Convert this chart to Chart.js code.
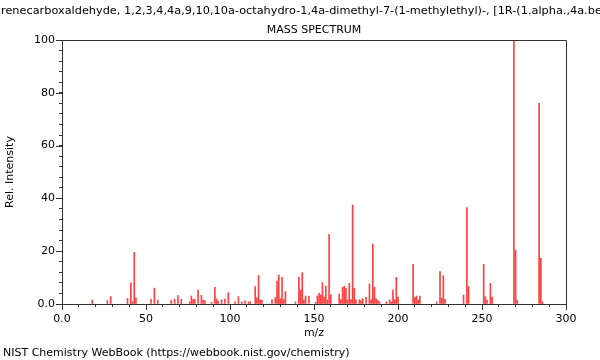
<!DOCTYPE html>
<html lang="en">
<head>
    <meta charset="UTF-8">
    <title>Mass spectrum</title>
    <style>
        body {
            margin: 0;
            padding: 0;
            background-color: #ffffff;
        }
    </style>
    <script src="https://cdn.jsdelivr.net/npm/chart.js"></script>
</head>
<body>
    <canvas id="myChart" width="600" height="360"></canvas>

    <script>
        // m/z values and relative intensities
        const mz = [18, 27, 29, 39, 41, 42, 43, 44, 53, 55, 57, 65, 67, 69, 71, 76, 77, 78, 79, 81,
            83, 84, 85, 89, 91, 92, 93, 95, 97, 99, 103, 105, 107, 109, 111, 112, 115, 116, 117, 118,
            119, 125, 127, 128, 129, 130, 131, 132, 133, 139, 141, 142, 143, 144, 145, 147, 151, 152, 153, 154,
            155, 156, 157, 158, 159, 160, 165, 166, 167, 168, 169, 170, 171, 172, 173, 174, 175, 177, 178, 179,
            181, 183, 184, 185, 186, 187, 188, 189, 193, 195, 196, 197, 198, 199, 200, 209, 210, 211, 212, 213,
            223, 225, 226, 227, 228, 239, 241, 242, 251, 252, 253, 255, 256, 269, 270, 271, 284, 285, 286];
        const relInt = [1.5, 1.3, 2.8, 2.1, 8.0, 0.8, 19.5, 2.2, 1.8, 6.0, 1.5, 1.3, 1.9, 3.2, 1.8, 0.8, 3.0, 1.7, 1.8, 5.3,
            3.3, 1.5, 1.3, 0.7, 6.3, 1.9, 1.0, 1.6, 1.9, 4.3, 0.8, 2.8, 0.8, 1.2, 0.8, 0.8, 6.6, 2.3, 10.8, 1.5,
            1.5, 1.7, 2.5, 8.7, 11.0, 2.0, 10.1, 1.6, 4.7, 0.8, 10.1, 5.3, 11.9, 1.5, 3.0, 3.0, 0.6, 3.0, 4.0, 3.5,
            8.1, 2.6, 6.8, 1.5, 26.4, 3.5, 3.8, 1.7, 6.3, 6.8, 5.9, 1.5, 7.8, 1.7, 37.5, 5.9, 1.5, 1.6, 1.3, 2.0,
            2.5, 7.6, 1.6, 22.7, 6.3, 2.0, 1.3, 0.8, 0.8, 1.5, 0.8, 5.3, 1.6, 10.1, 2.6, 15.0, 2.5, 3.0, 1.5, 3.0,
            0.8, 12.3, 2.2, 10.7, 1.8, 3.4, 36.5, 6.6, 15.0, 2.8, 1.5, 7.8, 2.6, 100, 20.4, 1.5, 76, 17.3, 0.8];

        const compoundName = '1-Phenanthrenecarboxaldehyde, 1,2,3,4,4a,9,10,10a-octahydro-1,4a-dimethyl-7-(1-methylethyl)-, [1R-(1.alpha.,4a.beta.,10a.alpha.)]-';
        const subTitle = 'MASS SPECTRUM';
        const footer = 'NIST Chemistry WebBook (https://webbook.nist.gov/chemistry)';
        const font = '11px "DejaVu Sans"';

        // titles, frame, longer major ticks and footer
        const decorations = {
            id: 'decorations',
            afterDraw(chart) {
                const ctx = chart.ctx;
                const area = chart.chartArea;
                const xs = chart.scales.x;
                const ys = chart.scales.y;
                ctx.save();
                ctx.fillStyle = '#000';
                ctx.textBaseline = 'middle';
                ctx.textAlign = 'left';
                ctx.font = '11.3px "DejaVu Sans"';
                const cut = ctx.measureText('1-Phenanth').width;
                ctx.fillText(compoundName, 1 - cut, 11);
                ctx.font = font;
                ctx.textAlign = 'center';
                ctx.fillText(subTitle, (area.left + area.right) / 2, 30);
                ctx.textAlign = 'left';
                ctx.fillText(footer, 3, 353);

                ctx.strokeStyle = '#333';
                ctx.lineWidth = 1;
                ctx.beginPath();
                ctx.moveTo(area.left, area.top + 0.5);
                ctx.lineTo(area.right + 0.5, area.top + 0.5);
                ctx.lineTo(area.right + 0.5, area.bottom);
                ctx.stroke();

                ctx.beginPath();
                xs.ticks.forEach(t => {
                    if (t.value % 50 === 0) {
                        const px = Math.round(xs.getPixelForValue(t.value)) + 0.5;
                        ctx.moveTo(px, area.bottom);
                        ctx.lineTo(px, area.bottom + 6);
                    }
                });
                ys.ticks.forEach(t => {
                    if (t.value % 20 === 0) {
                        const py = Math.round(ys.getPixelForValue(t.value)) + 0.5;
                        ctx.moveTo(area.left, py);
                        ctx.lineTo(area.left - 6, py);
                    }
                });
                ctx.stroke();
                ctx.restore();
            }
        };

        function createChart() {
            const ctx = document.getElementById('myChart').getContext('2d');
            const points = mz.map((m, i) => ({ x: m, y: relInt[i] }));

            new Chart(ctx, {
                type: 'bar',
                data: {
                    datasets: [{
                        data: points,
                        backgroundColor: 'rgba(255, 30, 30, 0.85)',
                        barThickness: 1,
                        borderWidth: 0
                    }]
                },
                options: {
                    responsive: false,
                    animation: false,
                    layout: { padding: { left: 0, right: 34, top: 40, bottom: 0 } },
                    plugins: {
                        legend: { display: false },
                        tooltip: { enabled: false }
                    },
                    scales: {
                        x: {
                            type: 'linear',
                            min: 0,
                            max: 300,
                            offset: false,
                            afterFit: s => { s.height = 56; },
                            border: { color: '#333' },
                            grid: { drawOnChartArea: false, offset: false, tickLength: 3, tickColor: '#333' },
                            ticks: {
                                stepSize: 10,
                                autoSkip: false,
                                maxRotation: 0,
                                padding: 6,
                                color: '#000',
                                font: { family: 'DejaVu Sans', size: 11 },
                                callback: v => v % 50 === 0 ? (v === 0 ? '0.0' : String(v)) : ''
                            },
                            title: {
                                display: true,
                                text: 'm/z',
                                color: '#000',
                                padding: { top: 2, bottom: 20 },
                                font: { family: 'DejaVu Sans', size: 11 }
                            }
                        },
                        y: {
                            min: 0,
                            max: 100,
                            afterFit: s => { s.width = 62; },
                            border: { color: '#333' },
                            grid: { drawOnChartArea: false, tickLength: 3, tickColor: '#333' },
                            ticks: {
                                stepSize: 4,
                                autoSkip: false,
                                padding: 4,
                                color: '#000',
                                font: { family: 'DejaVu Sans', size: 11 },
                                callback: v => v % 20 === 0 ? (v === 0 ? '0.0' : String(v)) : ''
                            },
                            title: {
                                display: true,
                                text: 'Rel. Intensity',
                                color: '#000',
                                padding: { top: 4, bottom: 0 },
                                font: { family: 'DejaVu Sans', size: 11 }
                            }
                        }
                    }
                },
                plugins: [decorations]
            });
        }

        createChart();
    </script>
</body>
</html>
